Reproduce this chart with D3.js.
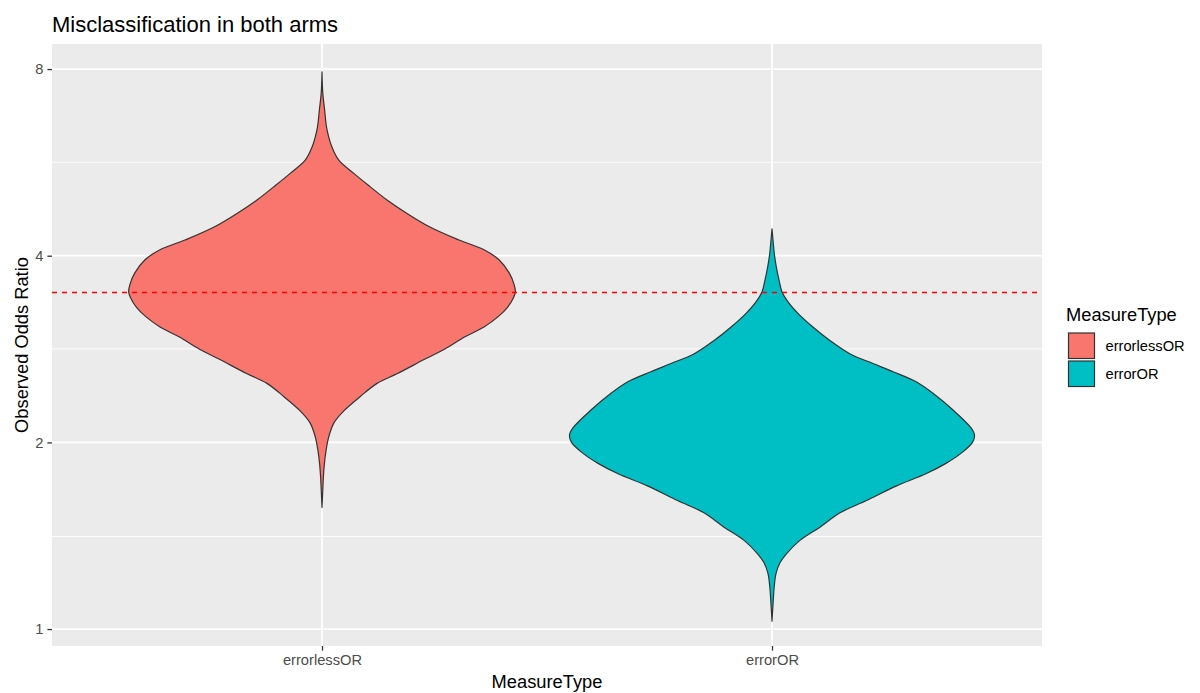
<!DOCTYPE html>
<html>
<head>
<meta charset="utf-8">
<script src="https://cdn.jsdelivr.net/npm/d3@7"></script>
<style>
  html, body { margin: 0; padding: 0; background: #fff; }
  svg { display: block; font-family: "Liberation Sans", Arial, sans-serif; }
</style>
</head>
<body>
<div id="chart"></div>
<script>
/* violin plot, log2 y scale, ggplot look */
const categories = ["errorlessOR", "errorOR"];
const yTicks = [1, 2, 4, 8];
const yMinor = [1.41, 2.83, 5.66];
const refLine = 3.5;

// [odds ratio, scaled violin width 0..1]
const errorlessOR = [[1.57,0],[1.68,0.004],[1.76,0.007],[1.85,0.012],[1.94,0.020],[2.04,0.033],
  [2.15,0.059],[2.25,0.109],[2.37,0.188],[2.49,0.272],[2.58,0.370],[2.72,0.504],[2.83,0.607],
  [2.96,0.706],[3.07,0.800],[3.19,0.870],[3.30,0.915],[3.42,0.945],[3.50,0.955],[3.60,0.948],
  [3.75,0.925],[3.94,0.874],[4.09,0.800],[4.24,0.677],[4.45,0.533],[4.68,0.420],[4.92,0.321],
  [5.17,0.237],[5.43,0.157],[5.71,0.082],[5.99,0.049],[6.22,0.033],[6.46,0.022],[6.87,0.013],
  [7.31,0.004],[7.92,0]];
const errorOR = [[1.03,0],[1.11,0.006],[1.17,0.011],[1.23,0.020],[1.28,0.040],[1.32,0.069],
  [1.39,0.138],[1.46,0.237],[1.54,0.336],[1.61,0.464],[1.70,0.612],[1.78,0.760],[1.85,0.859],
  [1.92,0.933],[2.00,0.990],[2.055,1.0],[2.11,0.983],[2.255,0.894],[2.40,0.795],[2.505,0.712],
  [2.60,0.598],[2.68,0.499],[2.78,0.384],[2.92,0.286],[3.07,0.202],[3.23,0.128],[3.37,0.079],
  [3.50,0.049],[3.65,0.035],[3.84,0.021],[4.04,0.011],[4.24,0.005],[4.42,0]];
const series = [errorlessOR, errorOR];
const fills = ["#F8766D", "#00BFC4"];

const W = 1200, H = 693;
const m = { t: 44, r: 158, b: 47, l: 52 };
const svg = d3.select("#chart").append("svg").attr("width", W).attr("height", H);

const x = d3.scalePoint().domain(categories).range([m.l, W - m.r]).padding(0.6);
const y = d3.scaleLog().base(2).domain([0.939, 8.78]).range([H - m.b, m.t]);
const half = 0.45 * x.step();

// panel + grid
svg.append("rect").attr("x", m.l).attr("y", m.t)
  .attr("width", W - m.r - m.l).attr("height", H - m.b - m.t).attr("fill", "#EBEBEB");
svg.append("g").selectAll("line").data(yMinor).join("line")
  .attr("x1", m.l).attr("x2", W - m.r).attr("y1", d => y(d)).attr("y2", d => y(d))
  .attr("stroke", "#fff").attr("stroke-width", 0.9);
svg.append("g").selectAll("line").data(yTicks).join("line")
  .attr("x1", m.l).attr("x2", W - m.r).attr("y1", d => y(d)).attr("y2", d => y(d))
  .attr("stroke", "#fff").attr("stroke-width", 1.8);
svg.append("g").selectAll("line").data(categories).join("line")
  .attr("x1", d => x(d)).attr("x2", d => x(d)).attr("y1", m.t).attr("y2", H - m.b)
  .attr("stroke", "#fff").attr("stroke-width", 1.8);

// violins
series.forEach((s, i) => {
  const cx = x(categories[i]);
  const area = d3.area().curve(d3.curveCatmullRom.alpha(0.5))
    .y(d => y(d[0])).x0(d => cx - d[1] * half).x1(d => cx + d[1] * half);
  svg.append("path").attr("d", area(s)).attr("fill", fills[i])
    .attr("stroke", "#333333").attr("stroke-width", 1.2).attr("stroke-linejoin", "round");
});

// reference line
const ry = Math.round(y(refLine)) + 0.5;
svg.append("line").attr("x1", m.l).attr("x2", W - m.r).attr("y1", ry).attr("y2", ry)
  .attr("stroke", "#FF0000").attr("stroke-width", 1.4).attr("stroke-dasharray", "5,5");

// axes
const yAx = svg.append("g").attr("transform", `translate(${m.l},0)`)
  .call(d3.axisLeft(y).tickValues(yTicks).tickFormat(d3.format("d")).tickSize(4.6).tickPadding(4));
const xAx = svg.append("g").attr("transform", `translate(0,${H - m.b})`)
  .call(d3.axisBottom(x).tickSize(4.6).tickPadding(4));
[yAx, xAx].forEach(g => {
  g.select(".domain").remove();
  g.selectAll(".tick line").attr("stroke", "#333333").attr("stroke-width", 1.3);
  g.selectAll(".tick text").attr("fill", "#4D4D4D").attr("font-size", 14.7)
    .attr("font-family", "Liberation Sans, Arial, sans-serif");
});

// titles
svg.append("text").attr("x", 52).attr("y", 32).attr("font-size", 22).attr("fill", "#000")
  .text("Misclassification in both arms");
svg.append("text").attr("x", (m.l + W - m.r) / 2).attr("y", 688).attr("text-anchor", "middle")
  .attr("font-size", 18.3).text("MeasureType");
svg.append("text").attr("transform", `translate(27.5,${(m.t + H - m.b) / 2}) rotate(-90)`)
  .attr("text-anchor", "middle").attr("font-size", 18.3).text("Observed Odds Ratio");

// legend
const lg = svg.append("g").attr("transform", "translate(1066,0)");
lg.append("text").attr("x", 0).attr("y", 321).attr("font-size", 18.3).text("MeasureType");
lg.selectAll("rect").data(categories).join("rect")
  .attr("x", 2.5).attr("y", (d, i) => 333 + i * 28).attr("width", 26).attr("height", 25.5)
  .attr("fill", (d, i) => fills[i]).attr("stroke", "#333333").attr("stroke-width", 1.2);
lg.selectAll("text.lab").data(categories).join("text").attr("class", "lab")
  .attr("x", 39.5).attr("y", (d, i) => 351 + i * 28).attr("font-size", 14.7)
  .attr("fill", "#000").text(d => d);
</script>
</body>
</html>
